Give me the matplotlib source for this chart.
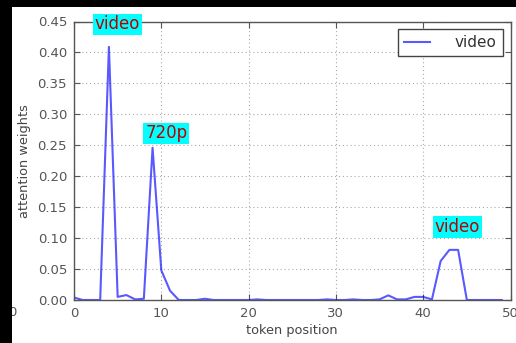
import numpy as np
import matplotlib.pyplot as plt
from matplotlib.patches import Rectangle

# attention weight per token position
positions = np.arange(50)
weights = [0.004, 0.0, 0.0, 0.0, 0.409, 0.005, 0.008, 0.001, 0.002, 0.246,
           0.048, 0.015, 0.0, 0.0, 0.0, 0.002, 0.0, 0.0, 0.0, 0.0,
           0.0, 0.001, 0.0, 0.0, 0.0, 0.0, 0.0, 0.0, 0.0, 0.001,
           0.0, 0.0, 0.001, 0.0, 0.0, 0.001, 0.0075, 0.001, 0.001, 0.005,
           0.005, 0.001, 0.063, 0.081, 0.081, 0.0, 0.0, 0.0, 0.0, 0.0]

# highlighted tokens: (text, x, y)
tokens = ['video', '720p', 'video']
token_x = [2.4, 8.15, 41.35]
token_y = [0.431, 0.255, 0.1034]

W, H = 516, 343
fig = plt.figure(figsize=(W / 100, H / 100), dpi=100)
fig.patch.set_facecolor('white')
ax = fig.add_axes([74 / W, 1 - 300 / H, 436.5 / W, 278.5 / H])

ax.plot(positions, weights, color='blue', alpha=0.65, lw=1.5, label='video')

for t, x, y in zip(tokens, token_x, token_y):
    ax.text(x, y, t, color='#bb0000', fontsize=12, ha='left', va='bottom',
            bbox=dict(facecolor='cyan', edgecolor='none', pad=1.2),
            clip_on=False, zorder=5)

ax.set_xlim(0, 50)
ax.set_ylim(0, 0.45)
ax.set_xticks(np.arange(0, 51, 10))
ax.set_yticks(np.arange(0, 0.451, 0.05))
ax.set_yticklabels(['%.2f' % v for v in np.arange(0, 0.451, 0.05)])
ax.grid(True, color='#aaaaaa', linestyle=(0, (1, 2.5)), lw=0.8)
ax.tick_params(direction='in', top=True, right=True, length=4,
               labelsize=9.5, labelcolor='#555555', color='#555555', pad=5)
for s in ax.spines.values():
    s.set_color('#555555')
    s.set_linewidth(1.0)

ax.set_xlabel('token position', fontsize=9.3, color='#444444', labelpad=3)
ax.set_ylabel('attention weights', fontsize=9.3, color='#444444', labelpad=5)

leg = ax.legend(loc='upper right', fontsize=11, fancybox=False, handlelength=1.7,
                handletextpad=1.6, borderaxespad=0.5, framealpha=1)
leg.get_frame().set_edgecolor('#444444')
leg.get_frame().set_linewidth(1.0)
for txt in leg.get_texts():
    txt.set_color('#333333')

# black borders of the screenshot frame, with a clipped tick label beneath
fig.text(12 / W, 1 - 312 / H, '0', fontsize=9.5, color='#555555',
         ha='center', va='center', zorder=1)
fig.patches.append(Rectangle((0, 0), 12 / W, 1, transform=fig.transFigure,
                             facecolor='black', edgecolor='none', zorder=3))
fig.patches.append(Rectangle((0, 1 - 7 / H), 1, 7 / H, transform=fig.transFigure,
                             facecolor='black', edgecolor='none', zorder=3))

fig.savefig('out.png', dpi=100)
